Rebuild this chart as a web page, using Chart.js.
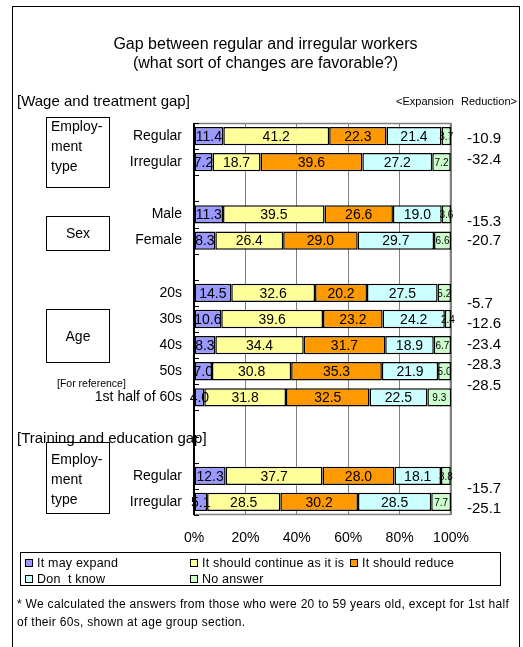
<!DOCTYPE html>
<html>
<head>
<meta charset="utf-8">
<script src="https://cdn.jsdelivr.net/npm/chart.js@4"></script>
<style>
  body { margin: 0; background: #fff; font-family: "Liberation Sans", Arial, sans-serif; color: #000; }
  #page { position: relative; width: 523px; height: 647px; overflow: hidden; }
  #myChart { position: absolute; left: 0; top: 0; }
  .abs { position: absolute; white-space: pre; }
  .frame { position: absolute; left: 12px; top: 6px; width: 506px; height: 700px; border: 1px solid #000; }
  .title { left: 12px; width: 507px; top: 34px; text-align: center; font-size: 16px; line-height: 19px; }
  .section { left: 17px; font-size: 15px; }
  .small { font-size: 10.5px; }
  .grp { position: absolute; left: 46px; width: 62px; border: 1px solid #000; font-size: 14px; line-height: 20px; }
  .legend { position: absolute; left: 20px; top: 552px; width: 479px; height: 32px; border: 1px solid #000; }
  .item { position: absolute; font-size: 12.5px; line-height: 14px; white-space: pre; letter-spacing: 0.2px; }
  .item i { display: inline-block; width: 6px; height: 6px; border: 1px solid #000; margin-right: 4px; vertical-align: 0px; }
  .note { left: 17px; top: 595px; font-size: 12px; line-height: 18px; letter-spacing: 0.3px; }
</style>
</head>
<body>
<div id="page">
  <canvas id="myChart" width="523" height="647"></canvas>
  <div class="frame"></div>
  <div class="abs title">Gap between regular and irregular workers
(what sort of changes are favorable?)</div>
  <div class="abs section" style="top:92px">[Wage and treatment gap]</div>
  <div class="abs" style="left:396px; top:95px; font-size:11px">&lt;Expansion</div>
  <div class="abs" style="left:461px; top:95px; font-size:11px">Reduction&gt;</div>
  <div class="grp" style="top:117px; height:69px; padding-left:4px; width:58px"><div style="margin-top:-2px">Employ-
ment
type</div></div>
  <div class="grp" style="top:216px; height:33px; line-height:33px; text-align:center">Sex</div>
  <div class="grp" style="top:309px; height:52px; line-height:52px; text-align:center">Age</div>
  <div class="abs small" style="left:57px; top:377px">[For reference]</div>
  <div class="abs section" style="top:429px">[Training and education gap]</div>
  <div class="grp" style="top:442px; height:70px; padding-left:4px; width:58px"><div style="margin-top:6px">Employ-
ment
type</div></div>
  <div class="legend" id="legend"></div>
  <div class="abs note">* We calculated the answers from those who were 20 to 59 years old, except for 1st half
of their 60s, shown at age group section.</div>
</div>
<script>
const categories = [
  "Regular", "Irregular", "", "Male", "Female", "",
  "20s", "30s", "40s", "50s", "1st half of 60s", "", "",
  "Regular", "Irregular",
];
const seriesNames = ["It may expand", "It should continue as it is", "It should reduce", "Don  t know", "No answer"];
const mayExpand   = [11.4, 7.2, null, 11.3, 8.3, null, 14.5, 10.6, 8.3, 7.0, 4.0, null, null, 12.3, 5.1];
const shouldKeep  = [41.2, 18.7, null, 39.5, 26.4, null, 32.6, 39.6, 34.4, 30.8, 31.8, null, null, 37.7, 28.5];
const shouldCut   = [22.3, 39.6, null, 26.6, 29.0, null, 20.2, 23.2, 31.7, 35.3, 32.5, null, null, 28.0, 30.2];
const dontKnow    = [21.4, 27.2, null, 19.0, 29.7, null, 27.5, 24.2, 18.9, 21.9, 22.5, null, null, 18.1, 28.5];
const noAnswer    = [3.7, 7.2, null, 3.6, 6.6, null, 5.2, 2.4, 6.7, 5.0, 9.3, null, null, 3.8, 7.7];
const expMinusRed = [-10.9, -32.4, null, -15.3, -20.7, null, -5.7, -12.6, -23.4, -28.3, -28.5, null, null, -15.7, -25.1];
const xTicks = [0, 20, 40, 60, 80, 100];

const colors = ["#9999ff", "#ffff99", "#ff9900", "#ccffff", "#ccffcc"];
const FONT = '"Liberation Sans", Arial, sans-serif';
// vertical nudges (px) of the right-hand difference column, as placed in the original
const diffNudge = [3, -2, 0, 7, 0, 0, 11, 5, 0, -6, -12, 0, 0, 13, 7];

const ctx = document.getElementById("myChart");

const barLabels = {
  id: "barLabels",
  afterDatasetsDraw(chart) {
    const c = chart.ctx;
    c.save();
    c.fillStyle = "#000";
    c.textAlign = "center";
    c.textBaseline = "middle";
    chart.data.datasets.forEach((ds, di) => {
      c.font = (di === 4 ? "10px " : "14px ") + FONT;
      chart.getDatasetMeta(di).data.forEach((bar, i) => {
        const v = ds.data[i];
        if (v == null) return;
        c.fillText(v.toFixed(1), (bar.x + bar.base) / 2, bar.y + 1);
      });
    });
    c.restore();
  },
};

const frameAndExtras = {
  id: "frameAndExtras",
  beforeDatasetsDraw(chart) {
    const c = chart.ctx;
    const a = chart.chartArea;
    c.save();
    c.strokeStyle = "#808080";
    c.lineWidth = 1.5;
    c.beginPath();
    c.moveTo(a.left, a.top + 0.5);
    c.lineTo(a.right, a.top + 0.5);
    c.moveTo(a.left, a.bottom - 0.5);
    c.lineTo(a.right, a.bottom - 0.5);
    c.moveTo(a.right - 0.5, a.top);
    c.lineTo(a.right - 0.5, a.bottom);
    c.stroke();
    c.restore();
  },
  afterDraw(chart) {
    const c = chart.ctx;
    const y = chart.scales.y;
    const a = chart.chartArea;
    const half = (y.getPixelForValue(1) - y.getPixelForValue(0)) / 2;
    c.save();
    // inside tick marks between categories
    c.strokeStyle = "#000";
    c.lineWidth = 1;
    c.beginPath();
    for (let i = 0; i <= categories.length; i++) {
      const py = Math.round(y.getPixelForValue(0) - half + i * 2 * half) + 0.5;
      c.moveTo(a.left, py);
      c.lineTo(a.left + 5, py);
    }
    c.stroke();
    // left axis
    c.lineWidth = 2;
    c.beginPath();
    c.moveTo(a.left, a.top);
    c.lineTo(a.left, a.bottom);
    c.stroke();
    // difference column
    c.fillStyle = "#000";
    c.font = "15px " + FONT;
    c.textAlign = "left";
    c.textBaseline = "middle";
    expMinusRed.forEach((v, i) => {
      if (v == null) return;
      c.fillText(v.toFixed(1), a.right + 16, y.getPixelForValue(i) + diffNudge[i]);
    });
    c.restore();
  },
};

const chart = new Chart(ctx, {
  type: "bar",
  data: {
    labels: categories,
    datasets: [mayExpand, shouldKeep, shouldCut, dontKnow, noAnswer].map((d, i) => ({
      label: seriesNames[i],
      data: d,
      backgroundColor: colors[i],
      borderColor: "#000",
      borderWidth: 1.5,
      borderSkipped: false,
      categoryPercentage: 1,
      barPercentage: 0.7,
    })),
  },
  options: {
    indexAxis: "y",
    responsive: false,
    animation: false,
    layout: { padding: { top: 123, right: 72, bottom: 0, left: 0 } },
    plugins: {
      legend: { display: false },
      tooltip: { enabled: false },
    },
    scales: {
      x: {
        stacked: true,
        min: 0,
        max: 100,
        afterBuildTicks: (s) => { s.ticks = xTicks.map((v) => ({ value: v })); },
        afterFit: (s) => { s.height = 132; },
        grid: { color: "#808080", lineWidth: 1, drawTicks: false },
        border: { display: false },
        ticks: {
          padding: 15,
          color: "#000",
          font: { family: FONT, size: 14 },
          callback: (v) => v + "%",
          maxRotation: 0,
        },
      },
      y: {
        stacked: true,
        offset: true,
        afterFit: (s) => { s.width = 194; },
        grid: { display: false, drawTicks: false },
        border: { display: false },
        ticks: {
          padding: 12,
          color: "#000",
          autoSkip: false,
          font: { family: FONT, size: 14 },
        },
      },
    },
  },
  plugins: [frameAndExtras, barLabels],
});

// legend built from the chart's datasets, laid out like the original two-row box
const legendPos = [[4, 3], [169, 3], [329, 3], [4, 19], [169, 19]];
const legend = document.getElementById("legend");
chart.data.datasets.forEach((ds, i) => {
  const el = document.createElement("div");
  el.className = "item";
  el.style.left = legendPos[i][0] + "px";
  el.style.top = legendPos[i][1] + "px";
  el.innerHTML = '<i style="background:' + ds.backgroundColor + '"></i>';
  el.appendChild(document.createTextNode(ds.label));
  legend.appendChild(el);
});
</script>
</body>
</html>
